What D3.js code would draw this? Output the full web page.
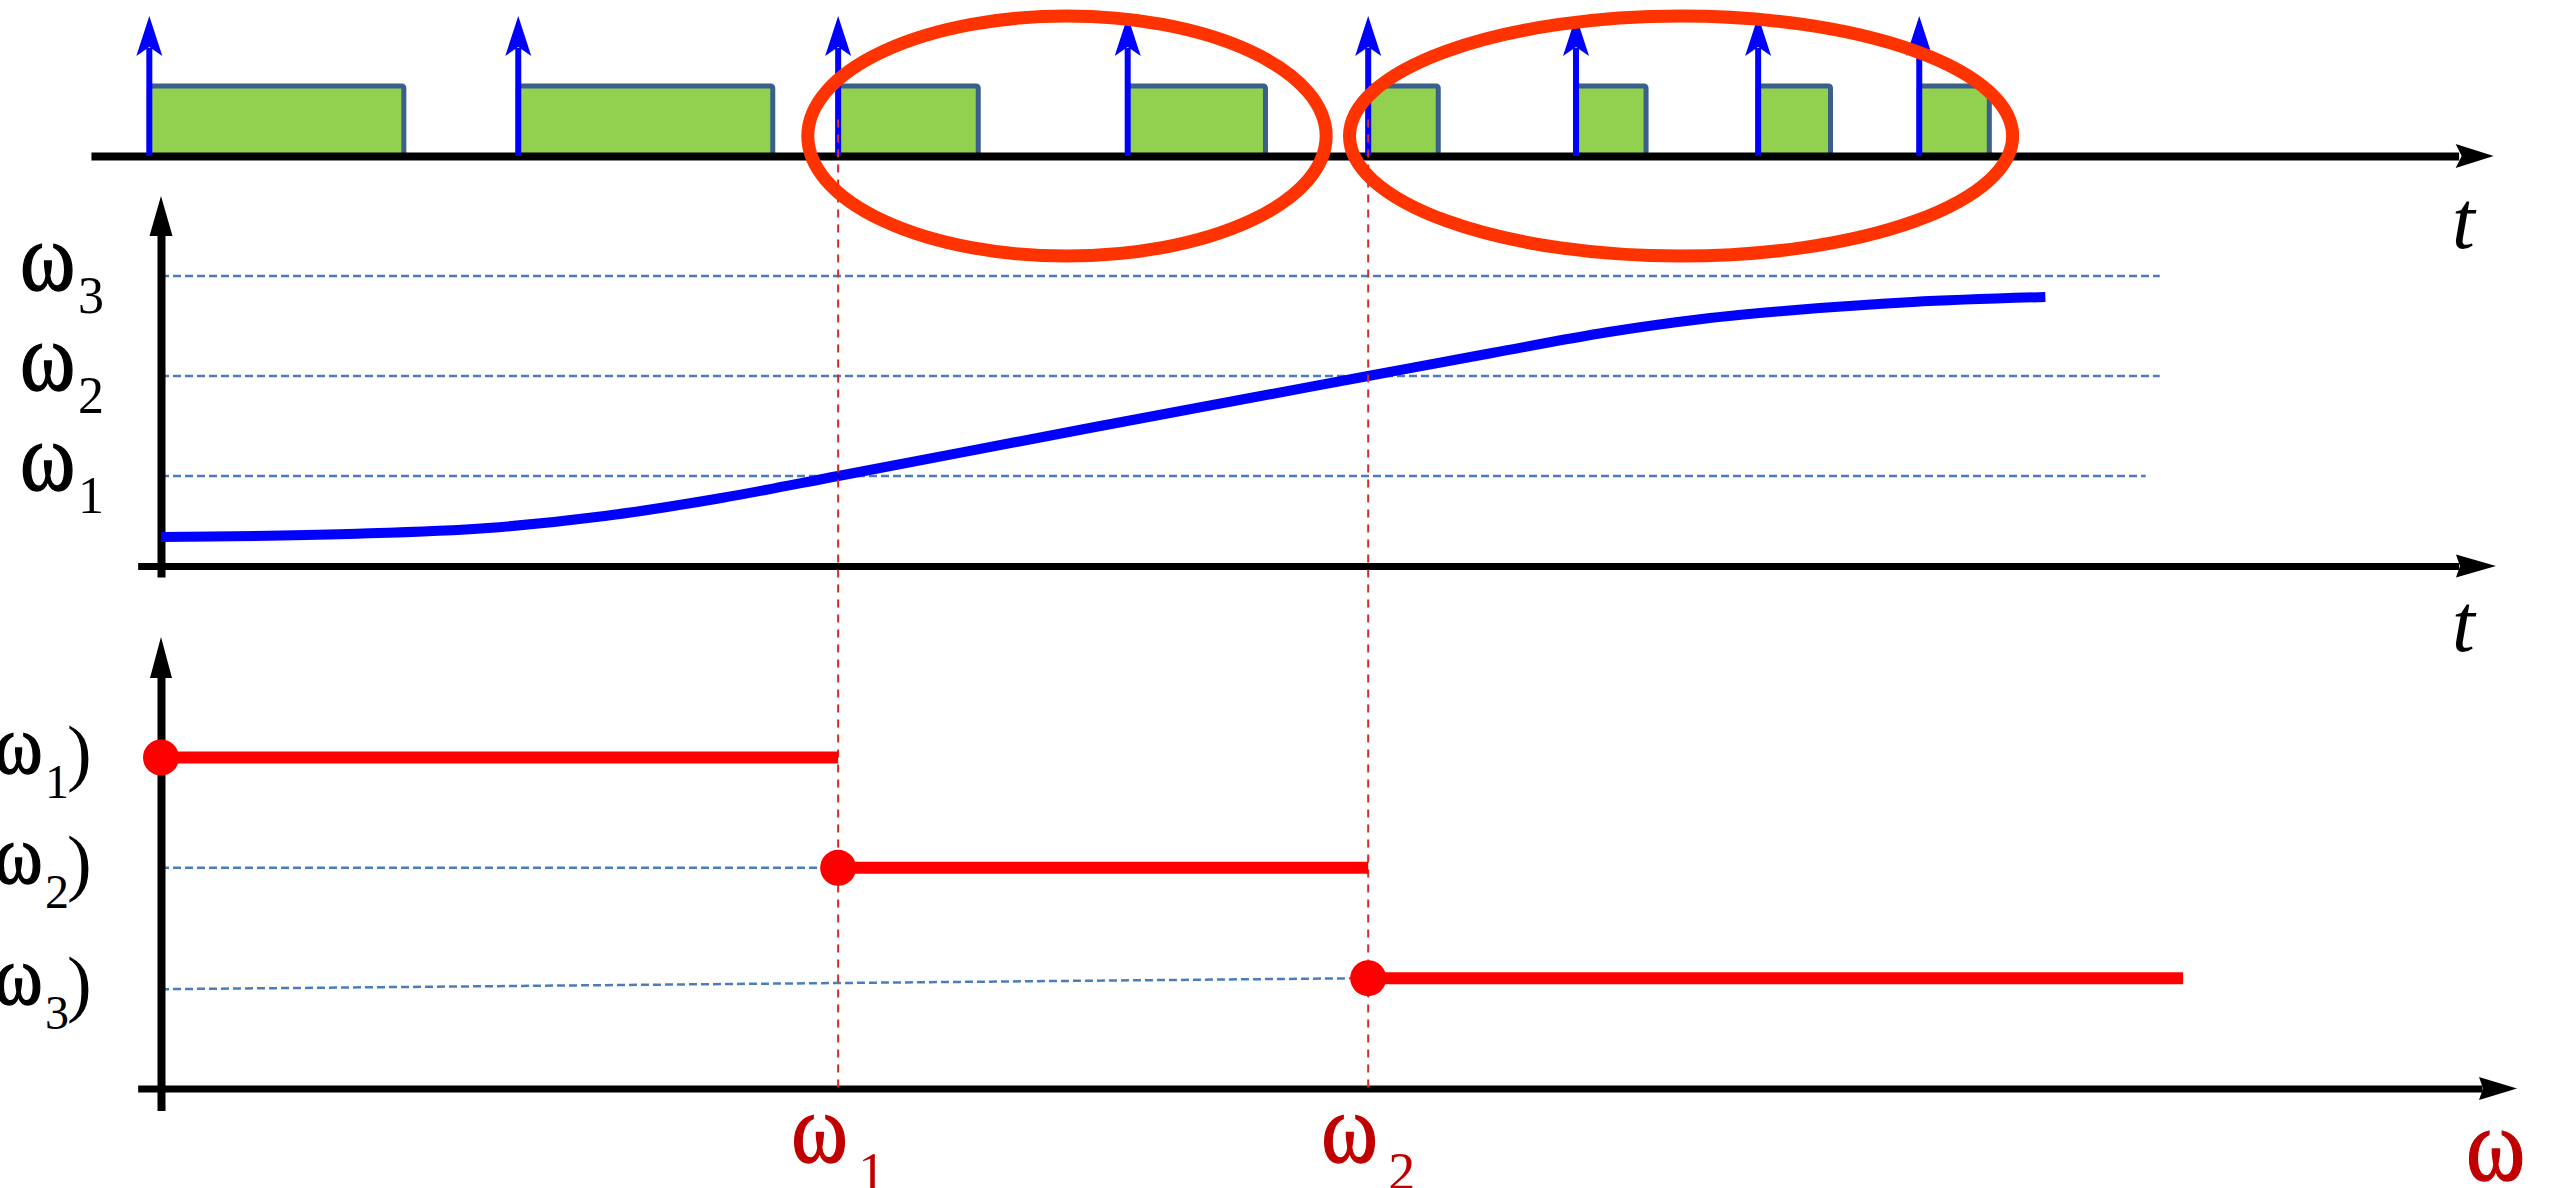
<!DOCTYPE html>
<html><head><meta charset="utf-8">
<script src="https://cdn.jsdelivr.net/npm/d3@7/dist/d3.min.js"></script>
<style>html,body{margin:0;padding:0;background:#fff;overflow:hidden}</style>
</head><body>
<svg id="c" width="2550" height="1188" xmlns="http://www.w3.org/2000/svg"></svg>
<script>
// ---------- data ----------
const impulseTimes = [-0.5, 15.3, 29.0, 41.4, 51.7, 60.6, 68.4, 75.3];
const pulseEnds    = [10.4, 26.2, 35.0, 47.3, 54.7, 63.6, 71.5, 78.3];
const pulseLevel = 1;
const impulseLevel = 2;
const windowStarts = [27.7, 50.9];
const windowEnds   = [49.9, 79.3];
const windowLow = -1.43, windowHigh = 2.0;

const omegaLevels = [1, 2, 3];
const omegaSubs   = ["1", "2", "3"];
const guideEnds   = [85.0, 85.6, 85.6];

const curveT = [0, 8, 14, 19, 24, 29.0, 40, 51.7, 57, 62, 66, 70, 75, 80.7];
const curveW = [0.39, 0.42, 0.48, 0.60, 0.78, 1.00, 1.49, 2.00, 2.23, 2.44, 2.57, 2.66, 2.74, 2.79];

const crossTimes = [29.0, 51.7];
const crossSubs  = ["1", "2"];

const stepStarts = [0, 29.0, 51.7];
const stepEnds   = [29.0, 51.7, 86.6];
const stepValues = [3, 2, 1];
const stepGuideLeft = [null, 2, 0.9];
const stepSubs = ["1", "2", "3"];

// ---------- scales ----------
const svg = d3.select("#c");
const x = d3.scaleLinear().domain([0, 100]).range([161, 2496]);
const yTop = d3.scaleLinear().domain([0, 2]).range([156, 16]);
const yW = d3.scaleLinear().domain([0, 3]).range([576, 276]);
const yS = d3.scaleLinear().domain([0, 3]).range([1088.5, 757.5]);

const SERIF = "'Liberation Serif','Times New Roman',serif";
const BLUE_DASH = "#4A7EBB";
const RED_DASH = "#D42A2A";

function arrowRight(tipX, tipY, len, half, notch) {
  svg.append("path")
    .attr("d", `M${tipX},${tipY}L${tipX-len},${tipY-half}L${tipX-len+notch},${tipY}L${tipX-len},${tipY+half}Z`)
    .attr("fill", "#000");
}
function arrowUp(tipX, tipY, len, half, notch, color) {
  svg.append("path")
    .attr("d", `M${tipX},${tipY}L${tipX-half},${tipY+len}L${tipX},${tipY+len-notch}L${tipX+half},${tipY+len}Z`)
    .attr("fill", color || "#000");
}
function hAxis(y, t0, t1, w) {
  const s = d3.scaleLinear().domain([t0, t1]).range([x(t0), x(t1)]);
  const g = svg.append("g").attr("transform", `translate(0,${y})`)
    .call(d3.axisBottom(s).tickValues([]).tickSizeOuter(0));
  g.select(".domain").attr("stroke", "#000").attr("stroke-width", w);
}
function vAxis(scale, v0, v1, w) {
  const s = d3.scaleLinear().domain([v0, v1]).range([scale(v0), scale(v1)]);
  const g = svg.append("g").attr("transform", `translate(${x(0)},0)`)
    .call(d3.axisLeft(s).tickValues([]).tickSizeOuter(0));
  g.select(".domain").attr("stroke", "#000").attr("stroke-width", w);
}
// omega with subscript; omega glyph stretched a bit vertically to match the symbol face
function omegaLabel(px, py, size, color, sub, subSize, subDy, subX, closing, closeX) {
  const g = svg.append("g").attr("fill", color).attr("font-family", SERIF);
  g.append("text").attr("transform", `translate(${px},${py}) scale(1,1.15)`)
    .attr("font-size", size).attr("stroke", color).attr("stroke-width", 1.2).text("ω");
  if (sub) {
    g.append("text").attr("x", subX).attr("y", py + subDy).attr("font-size", subSize).text(sub);
  }
  if (closing) {
    g.append("text").attr("x", closeX).attr("y", py + 4).attr("font-size", closing).text(")");
  }
}

// ---------- top panel: pulses ----------
const pulses = impulseTimes.map((t, i) => ({s: t, e: pulseEnds[i]}));
svg.append("g").selectAll("rect").data(pulses).join("rect")
  .attr("x", d => x(d.s)).attr("y", yTop(pulseLevel))
  .attr("width", d => x(d.e) - x(d.s))
  .attr("height", yTop(0) - yTop(pulseLevel))
  .attr("rx", 2)
  .attr("fill", "#92D050").attr("stroke", "#3A5F8B").attr("stroke-width", 5);

// ---------- middle panel guides ----------
svg.append("g").selectAll("line").data(omegaLevels).join("line")
  .attr("x1", x(0)).attr("x2", (d, i) => x(guideEnds[i]))
  .attr("y1", d => yW(d)).attr("y2", d => yW(d))
  .attr("stroke", BLUE_DASH).attr("stroke-width", 2.5).attr("stroke-dasharray", "8,4");

// bottom panel guides
const stepData = stepValues.map((v, i) => ({s: stepStarts[i], e: stepEnds[i], v, gl: stepGuideLeft[i], sub: stepSubs[i]}));
svg.append("g").selectAll("line").data(stepData.filter(d => d.gl !== null)).join("line")
  .attr("x1", x(0)).attr("x2", d => x(d.s))
  .attr("y1", d => yS(d.gl)).attr("y2", d => yS(d.v))
  .attr("stroke", BLUE_DASH).attr("stroke-width", 2.5).attr("stroke-dasharray", "8,4");

// ---------- axes ----------
hAxis(yTop(0), -3.0, 98.4, 8);
arrowRight(x(99.9), yTop(0), 38, 12, 6);
vAxis(yW, -0.01, 3.45, 8);
arrowUp(x(0), 196, 40, 11.5, 0);
hAxis(566, -1.0, 98.4, 7);
arrowRight(x(100), 566, 40, 11.5, 4);
vAxis(yS, -0.2, 3.75, 8);
arrowUp(x(0), 637, 41, 11, 0);
hAxis(yS(0), -1.0, 99.4, 7);
arrowRight(x(100.9), yS(0), 38, 11.5, 4);

// ---------- impulses ----------
svg.append("g").selectAll("line").data(impulseTimes).join("line")
  .attr("x1", d => x(d)).attr("x2", d => x(d))
  .attr("y1", yTop(0)).attr("y2", yTop(impulseLevel) + 32)
  .attr("stroke", "#0000FF").attr("stroke-width", 6);
impulseTimes.forEach(t => arrowUp(x(t), yTop(impulseLevel), 40, 13, 9, "#0000FF"));

// ---------- curve ----------
const curvePts = curveT.map((t, i) => ({t, w: curveW[i]}));
svg.append("path").datum(curvePts)
  .attr("d", d3.line().x(d => x(d.t)).y(d => yW(d.w)).curve(d3.curveMonotoneX))
  .attr("fill", "none").attr("stroke", "#0000FF").attr("stroke-width", 10);

// ---------- red dashed verticals ----------
svg.append("g").selectAll("line").data(crossTimes).join("line")
  .attr("x1", d => x(d)).attr("x2", d => x(d))
  .attr("y1", yTop(0.52)).attr("y2", yS(0))
  .attr("stroke", RED_DASH).attr("stroke-width", 2).attr("stroke-dasharray", "8,7");

// ---------- ellipses ----------
const windows = windowStarts.map((s, i) => ({s, e: windowEnds[i]}));
svg.append("g").selectAll("ellipse").data(windows).join("ellipse")
  .attr("cx", d => (x(d.s) + x(d.e)) / 2)
  .attr("cy", (yTop(windowLow) + yTop(windowHigh)) / 2)
  .attr("rx", d => (x(d.e) - x(d.s)) / 2)
  .attr("ry", (yTop(windowLow) - yTop(windowHigh)) / 2)
  .attr("fill", "none").attr("stroke", "#FF3300").attr("stroke-width", 13);

// ---------- steps ----------
svg.append("g").selectAll("line").data(stepData).join("line")
  .attr("x1", d => x(d.s)).attr("x2", d => x(d.e))
  .attr("y1", d => yS(d.v)).attr("y2", d => yS(d.v))
  .attr("stroke", "#FF0000").attr("stroke-width", 12);
svg.append("g").selectAll("circle").data(stepData).join("circle")
  .attr("cx", d => x(d.s)).attr("cy", d => yS(d.v)).attr("r", 18)
  .attr("fill", "#FF0000");

// ---------- labels ----------
[248, 651].forEach(by => {
  svg.append("text").attr("x", 2452).attr("y", by)
    .attr("font-family", SERIF).attr("font-style", "italic").attr("font-size", 82)
    .attr("fill", "#000").text("t");
});
omegaLevels.forEach((lv, i) => {
  omegaLabel(20, yW(lv) + 14, 84, "#000", omegaSubs[i], 52, 23, 78, null, 0);
});
stepData.forEach(d => {
  const yy = yS(d.gl !== null ? d.gl : d.v) + 15;
  omegaLabel(-6, yy, 74, "#000", d.sub, 48, 25, 45, 74, 67);
});
crossTimes.forEach((c, i) => {
  omegaLabel(x(c) - 47, 1162, 86, "#C00000", crossSubs[i], 54, 28, x(c) + 20, null, 0);
});
omegaLabel(2466, 1180, 90, "#C00000", null, 0, 0, 0, null, 0);
</script>
</body></html>
